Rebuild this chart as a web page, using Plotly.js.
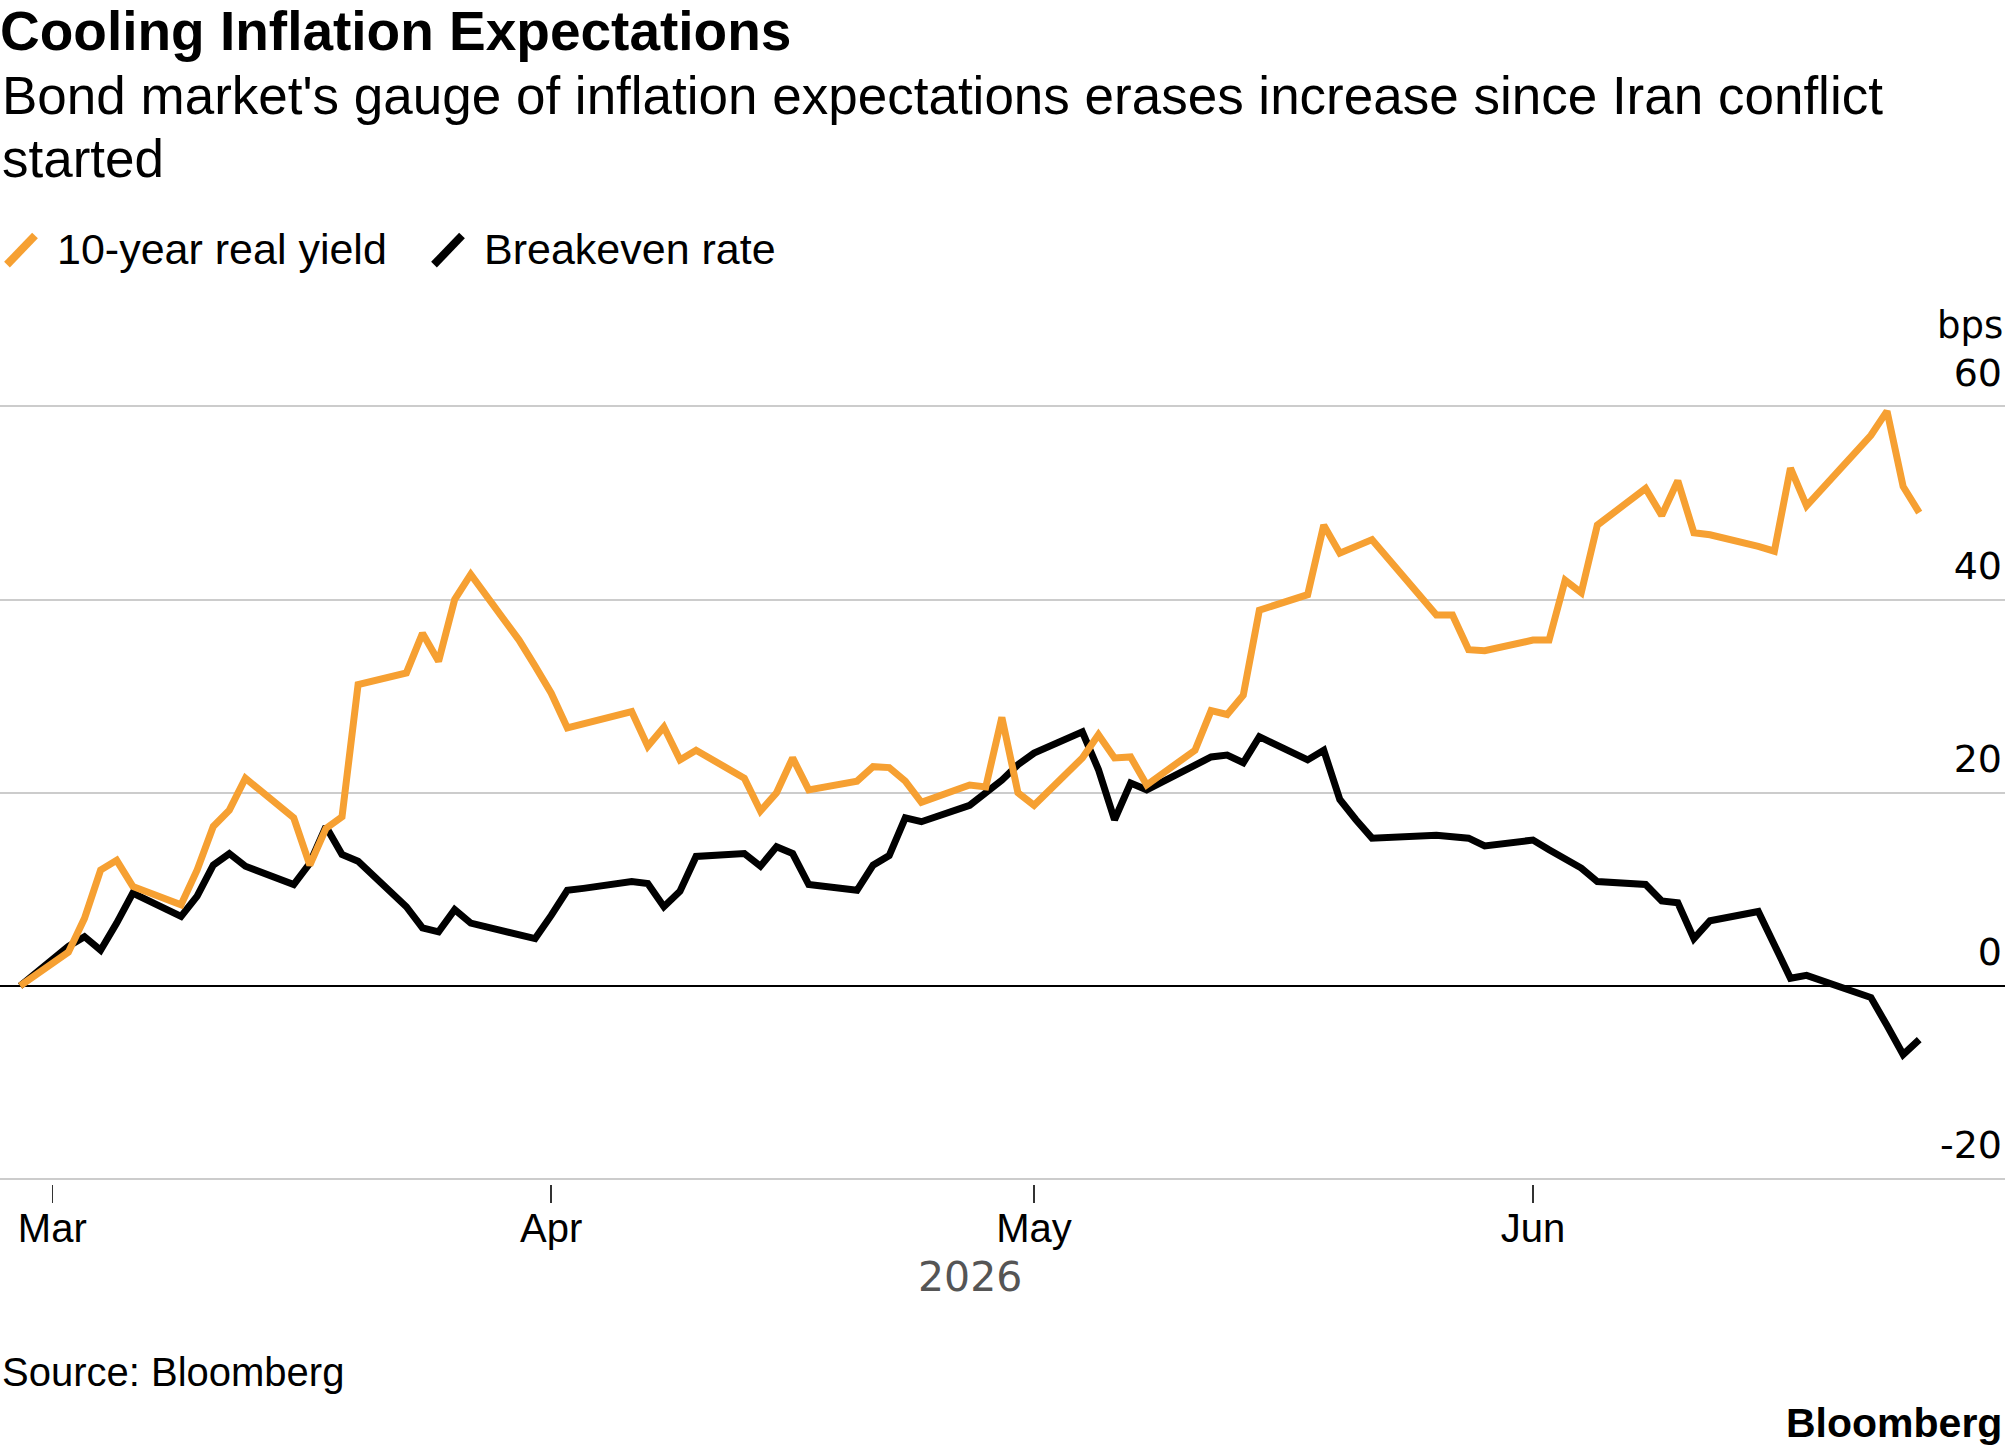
<!DOCTYPE html>
<html>
<head>
<meta charset="utf-8">
<script src="https://cdn.plot.ly/plotly-3.0.1.min.js"></script>
<style>
html,body{margin:0;padding:0;background:#fff;}
#chart{width:2005px;height:1455px;}
</style>
</head>
<body>
<div id="chart"></div>
<script>
// ---- data (bps change since Feb 27, 2026) ----
const dates = [
'2026-02-27','2026-03-02','2026-03-03','2026-03-04','2026-03-05','2026-03-06',
'2026-03-09','2026-03-10','2026-03-11','2026-03-12','2026-03-13',
'2026-03-16','2026-03-17','2026-03-18','2026-03-19','2026-03-20',
'2026-03-23','2026-03-24','2026-03-25','2026-03-26','2026-03-27',
'2026-03-30','2026-03-31','2026-04-01','2026-04-02','2026-04-03',
'2026-04-06','2026-04-07','2026-04-08','2026-04-09','2026-04-10',
'2026-04-13','2026-04-14','2026-04-15','2026-04-16','2026-04-17',
'2026-04-20','2026-04-21','2026-04-22','2026-04-23','2026-04-24',
'2026-04-27','2026-04-28','2026-04-29','2026-04-30','2026-05-01',
'2026-05-04','2026-05-05','2026-05-06','2026-05-07','2026-05-08',
'2026-05-11','2026-05-12','2026-05-13','2026-05-14','2026-05-15',
'2026-05-18','2026-05-19','2026-05-20','2026-05-21','2026-05-22',
'2026-05-26','2026-05-27','2026-05-28','2026-05-29',
'2026-06-01','2026-06-02','2026-06-03','2026-06-04','2026-06-05',
'2026-06-08','2026-06-09','2026-06-10','2026-06-11','2026-06-12',
'2026-06-15','2026-06-16','2026-06-17','2026-06-18',
'2026-06-22','2026-06-23','2026-06-24','2026-06-25'
];

const realYield = [
0, 3.5, 7.0, 12.0, 13.0, 10.3,
8.4, 12.0, 16.5, 18.2, 21.5,
17.4, 12.5, 16.3, 17.5, 31.2,
32.4, 36.5, 33.6, 40.0, 42.6,
35.8, 33.1, 30.3, 26.7, 27.1,
28.4, 24.8, 26.8, 23.4, 24.4,
21.5, 18.1, 20.0, 23.6, 20.3,
21.2, 22.7, 22.6, 21.2, 19.0,
20.8, 20.6, 27.8, 20.0, 18.7,
23.6, 26.0, 23.6, 23.7, 20.8,
24.4, 28.5, 28.1, 30.1, 38.9,
40.5, 47.7, 44.8, 45.5, 46.2,
38.4, 38.4, 34.8, 34.7,
35.8, 35.8, 42.0, 40.7, 47.7,
51.5, 48.7, 52.3, 46.9, 46.7,
45.5, 45.0, 53.6, 49.7,
57.0, 59.5, 51.7, 49.0
];

const breakeven = [
0, 4.1, 5.1, 3.7, 6.5, 9.6,
7.2, 9.3, 12.5, 13.7, 12.4,
10.5, 12.7, 16.5, 13.6, 12.9,
8.2, 6.0, 5.6, 7.9, 6.5,
5.4, 4.9, 7.3, 9.9, 10.1,
10.8, 10.6, 8.2, 9.8, 13.4,
13.7, 12.4, 14.4, 13.7, 10.5,
9.9, 12.5, 13.5, 17.4, 17.0,
18.7, 20.0, 21.3, 22.9, 24.1,
26.3, 22.4, 17.2, 21.0, 20.3,
22.7, 23.7, 23.9, 23.1, 25.8,
23.4, 24.4, 19.3, 17.2, 15.3,
15.6, 15.5, 15.3, 14.5,
15.1, 14.1, 13.2, 12.2, 10.8,
10.5, 8.8, 8.6, 4.9, 6.75,
7.7, 4.3, 0.8, 1.1,
-1.2, -4.1, -7.1, -5.55
];

const seriesNames = ['10-year real yield', 'Breakeven rate'];
const seriesColors = ['#F6A032', '#000000'];
const monthTickDates = ['2026-03-01', '2026-04-01', '2026-05-01', '2026-06-01'];
const monthTickLabels = ['Mar', 'Apr', 'May', 'Jun'];
const yTickValues = [-20, 0, 20, 40, 60];
const yTickLabels = ['-20', '0', '20', '40', '60'];

const titleText = 'Cooling Inflation Expectations';
const subtitleLines = ["Bond market's gauge of inflation expectations erases increase since Iran conflict", 'started'];
const unitText = 'bps';
const yearText = '2026';
const sourceText = 'Source: Bloomberg';
const brandText = 'Bloomberg';

// ---- layout helpers ----
const W = 2005, H = 1455;
const yMin = -20.5, yMax = 68;   // extra headroom keeps the shifted "60" label visible
const pxPerUnit = 9.655;
const plotTop = 406.6 - (yMax - 60) * pxPerUnit;
const plotBottom = 1179 + (-20 - yMin) * pxPerUnit;
const plotH = plotBottom - plotTop;
const py = (pix) => (plotBottom - pix) / plotH;   // pixel row -> paper y
const px = (pix) => pix / W;                       // pixel col -> paper x

const FONT = '"Liberation Sans", Arial, Helvetica, sans-serif';
const NUMFONT = '"DejaVu Sans", "Liberation Sans", sans-serif';

const traces = [
  {
    x: dates, y: breakeven, name: seriesNames[1], type: 'scatter', mode: 'lines',
    line: {color: seriesColors[1], width: 7, shape: 'linear'}, showlegend: false,
    hoverinfo: 'skip'
  },
  {
    x: dates, y: realYield, name: seriesNames[0], type: 'scatter', mode: 'lines',
    line: {color: seriesColors[0], width: 7, shape: 'linear'}, showlegend: false,
    hoverinfo: 'skip'
  }
];

const layout = {
  width: W, height: H,
  margin: {l: 0, r: 0, t: plotTop, b: H - plotBottom, pad: 0},
  paper_bgcolor: '#ffffff', plot_bgcolor: '#ffffff',
  showlegend: false,
  title: {
    text: titleText,
    font: {family: FONT, size: 55, color: '#000', weight: 700},
    x: 0, xref: 'container', xanchor: 'left',
    y: 1 - 31 / H, yref: 'container', yanchor: 'middle'
  },
  xaxis: {
    type: 'date',
    range: ['2026-02-25 18:00', '2026-06-30 07:55'],
    tickmode: 'array', tickvals: monthTickDates, ticktext: monthTickLabels,
    ticks: 'outside', ticklen: 18, tickwidth: 1.5, tickcolor: '#333',
    ticklabelstandoff: -9,
    showgrid: false, zeroline: false, showline: false,
    tickfont: {family: FONT, size: 40, color: '#000'},
    fixedrange: true
  },
  yaxis: {
    range: [yMin, yMax],
    tickmode: 'array', tickvals: yTickValues, ticktext: yTickLabels,
    side: 'right', ticklabelposition: 'inside', ticks: '',
    ticklabelshift: -34, ticklabelstandoff: 0,
    showgrid: true, gridcolor: '#cccccc', gridwidth: 2,
    zeroline: true, zerolinecolor: '#000000', zerolinewidth: 2.5,
    showline: false,
    tickfont: {family: NUMFONT, size: 38, color: '#000'},
    fixedrange: true
  },
  annotations: [
    {text: subtitleLines[0], xref: 'paper', yref: 'paper', x: 0, y: py(96),
     xanchor: 'left', yanchor: 'middle', align: 'left', showarrow: false,
     font: {family: FONT, size: 53, color: '#000'}},
    {text: subtitleLines[1], xref: 'paper', yref: 'paper', x: 0, y: py(159),
     xanchor: 'left', yanchor: 'middle', align: 'left', showarrow: false,
     font: {family: FONT, size: 53, color: '#000'}},
    {text: seriesNames[0], xref: 'paper', yref: 'paper', x: px(55), y: py(249),
     xanchor: 'left', yanchor: 'middle', showarrow: false,
     font: {family: FONT, size: 43, color: '#000'}},
    {text: seriesNames[1], xref: 'paper', yref: 'paper', x: px(482), y: py(249),
     xanchor: 'left', yanchor: 'middle', showarrow: false,
     font: {family: FONT, size: 43, color: '#000'}},
    {text: unitText, xref: 'paper', yref: 'paper', x: px(2005), y: py(326),
     xanchor: 'right', yanchor: 'middle', showarrow: false,
     font: {family: NUMFONT, size: 37, color: '#000'}},
    {text: yearText, xref: 'paper', yref: 'paper', x: px(970), y: py(1277),
     xanchor: 'center', yanchor: 'middle', showarrow: false,
     font: {family: NUMFONT, size: 41, color: '#555555'}},
    {text: sourceText, xref: 'paper', yref: 'paper', x: 0, y: py(1372),
     xanchor: 'left', yanchor: 'middle', showarrow: false,
     font: {family: FONT, size: 40, color: '#000'}},
    {text: '<b>' + brandText + '</b>', xref: 'paper', yref: 'paper', x: px(2004), y: py(1423),
     xanchor: 'right', yanchor: 'middle', showarrow: false,
     font: {family: FONT, size: 41, color: '#000'}}
  ],
  shapes: [
    {type: 'line', xref: 'paper', yref: 'paper', x0: px(7), y0: py(265), x1: px(35), y1: py(236),
     line: {color: seriesColors[0], width: 8}},
    {type: 'line', xref: 'paper', yref: 'paper', x0: px(434), y0: py(265), x1: px(462), y1: py(236),
     line: {color: seriesColors[1], width: 8}}
  ]
};

Plotly.newPlot('chart', traces, layout, {displayModeBar: false, staticPlot: true});
</script>
</body>
</html>
